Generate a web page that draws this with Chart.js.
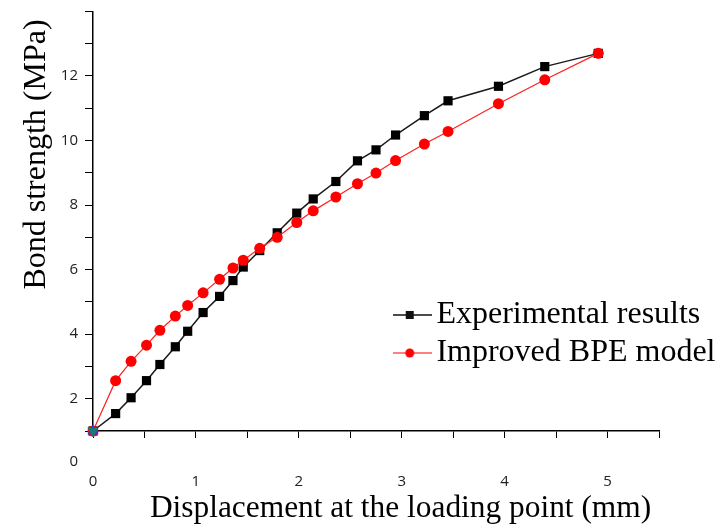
<!DOCTYPE html>
<html>
<head>
<meta charset="utf-8">
<script src="https://cdn.jsdelivr.net/npm/chart.js@4.4.0/dist/chart.umd.min.js"></script>
<style>
  body { margin: 0; background: #fff; }
</style>
</head>
<body>
<canvas id="bondChart" width="718" height="530"></canvas>
<script>
// values
let displacement = [0, 0.22, 0.37, 0.52, 0.65, 0.80, 0.92, 1.07, 1.23, 1.36, 1.46, 1.62, 1.79, 1.98, 2.14, 2.36, 2.57, 2.75, 2.94, 3.22, 3.45, 3.94, 4.39, 4.91];
let experimental = [1.0, 1.54, 2.03, 2.56, 3.06, 3.61, 4.09, 4.67, 5.17, 5.66, 6.08, 6.59, 7.14, 7.75, 8.19, 8.73, 9.37, 9.71, 10.17, 10.77, 11.23, 11.68, 12.29, 12.70];
let bpeModel = [1.0, 2.56, 3.16, 3.66, 4.12, 4.56, 4.89, 5.28, 5.70, 6.05, 6.29, 6.66, 7.00, 7.46, 7.82, 8.25, 8.66, 8.99, 9.38, 9.89, 10.28, 11.14, 11.88, 12.70];
let startPoint = { x: 0, y: 1.0 };
let seriesNames = ["Experimental results", "Improved BPE model"];
let xTickLabels = [0, 1, 2, 3, 4, 5];
let yTickLabels = [0, 2, 4, 6, 8, 10, 12];

const tickFont = { family: '"Open Sans", sans-serif', size: 15 };
const tickColor = '#222';
const serif = '"Liberation Serif", "DejaVu Serif", serif';

function pts(ys) {
  return displacement.map((x, i) => ({ x: x, y: ys[i] }));
}

// little line + marker picture for the legend
function legendSymbol(color, lineWidth, style) {
  const c = document.createElement('canvas');
  c.width = 44; c.height = 14;
  const g = c.getContext('2d');
  g.strokeStyle = color;
  g.lineWidth = lineWidth;
  g.beginPath(); g.moveTo(0, 7); g.lineTo(44, 7); g.stroke();
  g.fillStyle = color;
  if (style === 'rect') {
    g.fillRect(18, 3, 8, 8);
  } else {
    g.beginPath(); g.arc(22, 7, 4.5, 0, 2 * Math.PI); g.fill();
  }
  return c;
}
const symbols = [legendSymbol('#111', 1.5, 'rect'), legendSymbol('#ff0000', 1.2, 'circle')];

// legend sits inside the plot, lower right
const placeLegend = {
  id: 'placeLegend',
  afterLayout(chart) {
    const lg = chart.legend;
    lg.left = 393;
    lg.top = 293;
    lg.width = 325;
    lg.height = 100;
    lg.right = lg.left + lg.width;
    lg.bottom = lg.top + lg.height;
  }
};

// the lone "0" that sits below the x axis
const zeroLabel = {
  id: 'zeroLabel',
  afterDraw(chart) {
    const y = chart.scales.y;
    const ctx = chart.ctx;
    ctx.save();
    ctx.font = tickFont.size + 'px ' + tickFont.family;
    ctx.fillStyle = tickColor;
    ctx.textAlign = 'right';
    ctx.textBaseline = 'middle';
    ctx.fillText(String(yTickLabels[0]), y.right - 8 - 7, y.getPixelForValue(yTickLabels[0]) - 2);
    ctx.restore();
  }
};

new Chart(document.getElementById('bondChart'), {
  type: 'line',
  data: {
    datasets: [{
      label: seriesNames[0],
      data: pts(experimental),
      borderColor: '#1a1a1a',
      backgroundColor: '#000',
      borderWidth: 1.5,
      pointStyle: 'rect',
      pointRadius: 6.5,
      pointBorderWidth: 0,
      clip: false,
      order: 2
    }, {
      label: seriesNames[1],
      data: pts(bpeModel),
      borderColor: '#ff2020',
      backgroundColor: '#ff0000',
      borderWidth: 1.2,
      pointStyle: 'circle',
      pointRadius: 5.5,
      pointBorderWidth: 0,
      clip: false,
      order: 1
    }, {
      data: [startPoint],
      pointStyle: 'triangle',
      pointRadius: 6.5,
      backgroundColor: '#1f3cff',
      pointBorderWidth: 0,
      showLine: false,
      clip: false,
      order: 0
    }, {
      data: [startPoint],
      pointStyle: 'triangle',
      rotation: 180,
      pointRadius: 6.5,
      backgroundColor: '#177a78',
      pointBorderWidth: 0,
      showLine: false,
      clip: false,
      order: -1
    }]
  },
  options: {
    responsive: false,
    animation: false,
    layout: { padding: { left: 0, top: 11.4, right: 59, bottom: 0 } },
    plugins: {
      tooltip: { enabled: false },
      legend: {
        position: 'chartArea',
        align: 'start',
        labels: {
          usePointStyle: true,
          pointStyleWidth: 21.4,
          padding: 6,
          color: '#000',
          font: { family: serif, size: 32 },
          filter: (item) => item.datasetIndex < 2,
          sort: (a, b) => a.datasetIndex - b.datasetIndex,
          generateLabels(chart) {
            const items = Chart.defaults.plugins.legend.labels.generateLabels(chart);
            items.forEach(it => { if (it.datasetIndex < 2) it.pointStyle = symbols[it.datasetIndex]; });
            return items;
          }
        }
      }
    },
    scales: {
      x: {
        type: 'linear',
        min: 0,
        max: 5.5,
        afterFit: (s) => { s.height = 99; },
        border: { color: '#000', width: 1.5 },
        grid: { drawOnChartArea: false, tickLength: 7, color: '#000', lineWidth: 1 },
        ticks: {
          stepSize: 0.5,
          autoSkip: false,
          maxRotation: 0,
          padding: 35,
          color: tickColor,
          font: tickFont,
          callback: (v) => xTickLabels.includes(v) ? String(v) : ''
        },
        title: {
          display: true,
          text: 'Displacement at the loading point (mm) ',
          align: 'end',
          color: '#000',
          font: { family: serif, size: 31.4 },
          padding: { top: 0, bottom: 2.5 }
        }
      },
      y: {
        min: 1,
        max: 14,
        afterFit: (s) => { s.width = 93; s.paddingTop = 0; s.paddingBottom = 0; },
        border: { color: '#000', width: 1.5 },
        grid: { drawOnChartArea: false, tickLength: 8, color: '#000', lineWidth: 1 },
        ticks: {
          stepSize: 1,
          autoSkip: false,
          padding: 7,
          color: tickColor,
          font: tickFont,
          callback: (v) => (v > 0 && yTickLabels.includes(v)) ? String(v) : ''
        },
        title: {
          display: true,
          text: 'Bond strength (MPa) ',
          align: 'end',
          color: '#000',
          font: { family: serif, size: 32 },
          padding: { top: 17, bottom: 0 }
        }
      }
    }
  },
  plugins: [placeLegend, zeroLabel]
});
</script>
</body>
</html>
